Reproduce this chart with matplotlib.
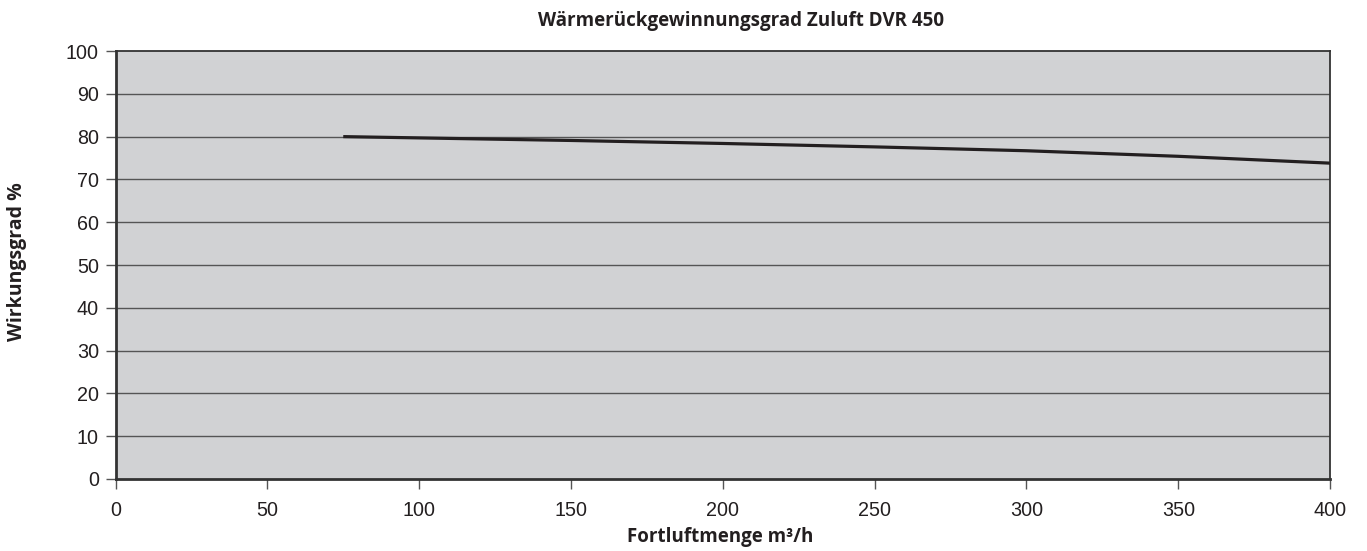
import matplotlib
matplotlib.use("Agg")
import matplotlib.pyplot as plt

# air volume (m3/h) and heat recovery efficiency (%)
luftmenge = [75, 100, 150, 200, 250, 300, 350, 400]
wirkungsgrad = [80.0, 79.7, 79.1, 78.4, 77.6, 76.7, 75.4, 73.8]

xticks = [0, 50, 100, 150, 200, 250, 300, 350, 400]
yticks = [0, 10, 20, 30, 40, 50, 60, 70, 80, 90, 100]

fig = plt.figure(figsize=(13.67, 5.51), dpi=100)
ax = fig.add_axes([0.0845, 0.1307, 0.8885, 0.7767])
ax.set_facecolor("#d1d2d4")

for y in yticks[1:-1]:
    ax.axhline(y, color="#555555", lw=1.0, zorder=1)

ax.plot(luftmenge, wirkungsgrad, color="#231f20", lw=2.3, solid_capstyle="butt", zorder=3)

ax.set_xlim(0, 400)
ax.set_ylim(0, 100)
ax.set_xticks(xticks)
ax.set_yticks(yticks)
ax.tick_params(axis="both", direction="out", length=7, width=1, color="#555555",
               labelsize=14.2, labelcolor="#231f20", pad=9)
ax.tick_params(axis="y", pad=5)
for lab in ax.get_xticklabels() + ax.get_yticklabels():
    lab.set_family("Liberation Sans")

for side in ["left", "bottom"]:
    ax.spines[side].set_linewidth(2)
    ax.spines[side].set_color("#333333")
for side in ["top", "right"]:
    ax.spines[side].set_linewidth(1.3)
    ax.spines[side].set_color("#333333")

fig.text(0.542, 0.962, "Wärmerückgewinnungsgrad Zuluft DVR 450", ha="center", va="center",
         fontsize=13.5, fontweight="bold", family="Open Sans", color="#231f20")
fig.text(0.527, 0.025, "Fortluftmenge m³/h", ha="center", va="center",
         fontsize=13.5, fontweight="bold", family="Open Sans", color="#231f20")
fig.text(0.0125, 0.525, "Wirkungsgrad %", ha="center", va="center", rotation=90,
         fontsize=14, fontweight="bold", family="Open Sans", color="#231f20")

fig.savefig("out.png", dpi=100)
